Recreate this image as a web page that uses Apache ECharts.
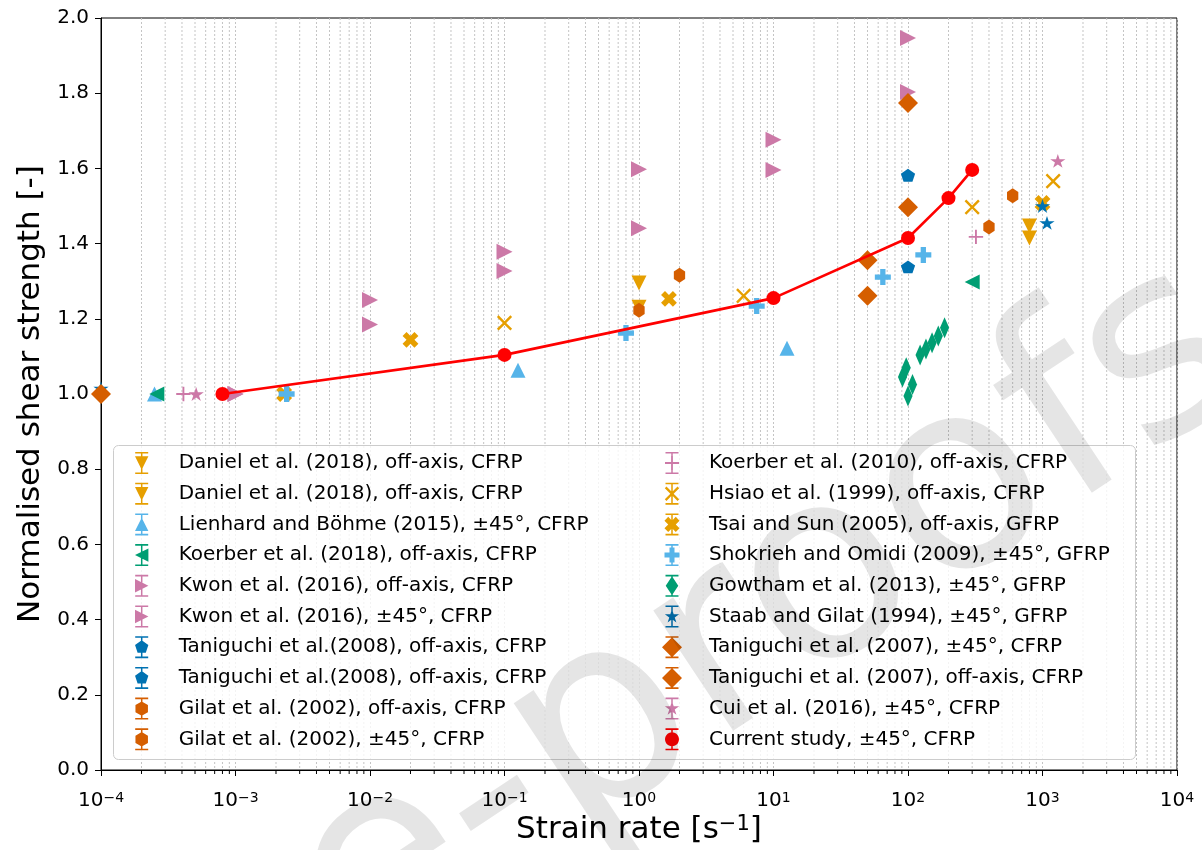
<!DOCTYPE html>
<html>
<head>
<meta charset="utf-8">
<script src="https://cdn.jsdelivr.net/npm/echarts@6/dist/echarts.min.js"></script>
<style>
html,body{margin:0;padding:0;background:#fff;}
#chart{width:1202px;height:850px;}
</style>
</head>
<body>
<div id="chart"></div>
<script>
// ---------------- data ----------------
const danielA = [[1, 1.295], [800, 1.447]];
const danielB = [[1, 1.231], [800, 1.415]];
const lienhard = [[2.5e-4, 1.0], [0.126, 1.063], [12.6, 1.122]];
const koerber2018 = [[2.6e-4, 1.0], [300, 1.298]];
const kwonOff = [[1e-3, 1.0], [0.01, 1.185], [0.1, 1.327], [1, 1.441], [10, 1.596], [100, 1.803]];
const kwon45 = [[1e-3, 1.0], [0.01, 1.25], [0.1, 1.378], [1, 1.598], [10, 1.676], [100, 1.947]];
const taniguchi2008A = [[100, 1.582]];
const taniguchi2008B = [[100, 1.338]];
const gilatOff = [[1, 1.223], [400, 1.444]];
const gilat45 = [[2, 1.316], [600, 1.527]];
const koerber2010 = [[4.1e-4, 1.0], [320, 1.418]];
const hsiao = [[0.1, 1.189], [6, 1.261], [300, 1.497], [1200, 1.566]];
const tsai = [[2.3e-3, 1.0], [0.02, 1.144], [1.67, 1.253], [1000, 1.508]];
const shokrieh = [[2.4e-3, 1.0], [0.8, 1.162], [7.5, 1.234], [65, 1.311], [130, 1.37]];
const gowtham = [[91, 1.045], [97, 1.07], [100, 0.995], [108, 1.025], [123, 1.104], [136, 1.12], [151, 1.136], [168, 1.154], [187, 1.176]];
const staab = [[1e-4, 1.015], [1000, 1.50], [1080, 1.455]];
const taniguchi2007_45 = [[1e-4, 1.0], [50, 1.356], [100, 1.497]];
const taniguchi2007_off = [[50, 1.261], [100, 1.774]];
const cui = [[5.1e-4, 1.0], [1300, 1.62]];
const current = [[8e-4, 1.0], [0.1, 1.104], [10, 1.255], [100, 1.415], [200, 1.521], [300, 1.596]];

const xMinExp = -4, xMaxExp = 4;
const yMin = 0, yMax = 2, yStep = 0.2;

const names = [
  'Daniel et al. (2018), off-axis, CFRP',
  'Daniel et al. (2018), off-axis, CFRP ',
  'Lienhard and Böhme (2015), ±45°, CFRP',
  'Koerber et al. (2018), off-axis, CFRP',
  'Kwon et al. (2016), off-axis, CFRP',
  'Kwon et al. (2016), ±45°, CFRP',
  'Taniguchi et al.(2008), off-axis, CFRP',
  'Taniguchi et al.(2008), off-axis, CFRP ',
  'Gilat et al. (2002), off-axis, CFRP',
  'Gilat et al. (2002), ±45°, CFRP',
  'Koerber et al. (2010), off-axis, CFRP',
  'Hsiao et al. (1999), off-axis, CFRP',
  'Tsai and Sun (2005), off-axis, GFRP',
  'Shokrieh and Omidi (2009), ±45°, GFRP',
  'Gowtham et al. (2013), ±45°, GFRP',
  'Staab and Gilat (1994), ±45°, GFRP',
  'Taniguchi et al. (2007), ±45°, CFRP',
  'Taniguchi et al. (2007), off-axis, CFRP',
  'Cui et al. (2016), ±45°, CFRP',
  'Current study, ±45°, CFRP'
];
const seriesData = [danielA, danielB, lienhard, koerber2018, kwonOff, kwon45, taniguchi2008A, taniguchi2008B,
  gilatOff, gilat45, koerber2010, hsiao, tsai, shokrieh, gowtham, staab, taniguchi2007_45, taniguchi2007_off, cui, current];

// ---------------- styles ----------------
const C = { orange: '#E69F00', sky: '#56B4E9', green: '#009E73', pink: '#CC79A7', blue: '#0072B2', verm: '#D55E00', red: '#FF0000' };
const FONT = 'DejaVu Sans';

function ngon(n, r, startDeg) {
  const p = [];
  for (let i = 0; i < n; i++) {
    const a = (startDeg + i * 360 / n) * Math.PI / 180;
    p.push([r * Math.cos(a), -r * Math.sin(a)]);
  }
  return p;
}
function starPts(r) {
  const p = [];
  for (let i = 0; i < 10; i++) {
    const a = (90 + i * 36) * Math.PI / 180;
    const rr = i % 2 === 0 ? r : r * 0.381966;
    p.push([rr * Math.cos(a), -rr * Math.sin(a)]);
  }
  return p;
}
function plusPts(L, w) {
  return [[-w, -L], [w, -L], [w, -w], [L, -w], [L, w], [w, w], [w, L], [-w, L], [-w, w], [-L, w], [-L, -w], [-w, -w]];
}
function rot(pts, deg) {
  const a = deg * Math.PI / 180, c = Math.cos(a), s = Math.sin(a);
  return pts.map(([x, y]) => [x * c - y * s, x * s + y * c]);
}
function shift(pts, dx, dy) { return pts.map(([x, y]) => [x + dx, y + dy]); }
function poly(pts) {
  let a = 0;
  for (let i = 0; i < pts.length; i++) {
    const p = pts[i], q = pts[(i + 1) % pts.length];
    a += p[0] * q[1] - q[0] * p[1];
  }
  if (a < 0) pts = pts.slice().reverse();
  return 'M' + pts.map(p => p[0].toFixed(2) + ',' + p[1].toFixed(2)).join('L') + 'Z';
}
function pathSym(pts) { return 'path://' + poly(shift(pts, 50, 50)); }

const shapes = {
  down: [[-1, -1], [1, -1], [0, 1]],
  up: [[-1, 1], [1, 1], [0, -1]],
  left: [[-1, 0], [1, -1], [1, 1]],
  right: [[1, 0], [-1, -1], [-1, 1]],
  pent: ngon(5, 1, 90),
  hex: ngon(6, 1, 90),
  star: starPts(1),
  plusThin: plusPts(1, 0.13),
  xThin: rot(plusPts(1, 0.13), 45),
  plusFill: plusPts(1, 1 / 3),
  xFill: rot(plusPts(1, 1 / 3), 45),
  thinD: [[0, -1], [0.66, 0], [0, 1], [-0.66, 0]],
  diam: [[0, -1], [1, 0], [0, 1], [-1, 0]],
  circ: ngon(28, 1, 0)
};
function scalePts(pts, s) { return pts.map(([x, y]) => [x * s, y * s]); }

// [shape, plot half-extent, legend half-extent, colour]
const markers = [
  ['down', 7.5, 6.7, C.orange], ['down', 7.5, 6.7, C.orange],
  ['up', 7.5, 6.7, C.sky], ['left', 7.5, 6.7, C.green],
  ['right', 8, 6.7, C.pink], ['right', 8, 6.7, C.pink],
  ['pent', 7.5, 7, C.blue], ['pent', 7.5, 7, C.blue],
  ['hex', 7.5, 7.2, C.verm], ['hex', 7.5, 7.2, C.verm],
  ['plusThin', 7.2, 7, C.pink], ['xThin', 9.5, 9, C.orange],
  ['xFill', 8.4, 8, C.orange], ['plusFill', 8, 7.5, C.sky],
  ['thinD', 10.5, 9.5, C.green], ['star', 8, 7.5, C.blue],
  ['diam', 10, 10, C.verm], ['diam', 10, 10, C.verm],
  ['star', 8, 7.5, C.pink], ['circ', 7, 7, C.red]
];

function legendIcon(shape, r) {
  const cx = 12, h = 22;
  const bar = [[cx - 6.5, 0], [cx + 6.5, 0], [cx + 6.5, 1.6], [cx + 0.75, 1.6], [cx + 0.75, h - 1.6], [cx + 6.5, h - 1.6],
    [cx + 6.5, h], [cx - 6.5, h], [cx - 6.5, h - 1.6], [cx - 0.75, h - 1.6], [cx - 0.75, 1.6], [cx - 6.5, 1.6]];
  const m = shift(scalePts(shapes[shape], r), cx, h / 2);
  return 'path://' + poly(bar) + poly(m);
}

// minor ticks of the log axis (axis structure)
const minorTicks = [];
for (let e = xMinExp; e < xMaxExp; e++) for (let m = 2; m <= 9; m++) minorTicks.push([m * Math.pow(10, e), 1]);

function xLabel(v) {
  const e = Math.round(Math.log10(v));
  const s = (e < 0 ? '−' + (-e) : '' + e);
  return '{b|10}{s|' + s + '}';
}

const series = [];
series.push({
  type: 'custom', silent: true, clip: false, z: 1, data: minorTicks,
  renderItem: function (params, api) {
    const cs = params.coordSys;
    const x = api.coord([api.value(0), 1])[0];
    return {
      type: 'group', children: [
        { type: 'line', shape: { x1: x, y1: cs.y, x2: x, y2: cs.y + cs.height }, style: { stroke: '#c4c4c4', lineWidth: 1, lineDash: [2, 2] }, silent: true },
        { type: 'line', shape: { x1: x, y1: cs.y + cs.height, x2: x, y2: cs.y + cs.height + 4 }, style: { stroke: '#000', lineWidth: 1 }, silent: true }
      ]
    };
  }
});
names.forEach((nm, i) => {
  const [shape, r, , col] = markers[i];
  const isCurrent = i === names.length - 1;
  const xs = shapes[shape].map(p => p[0]), ys = shapes[shape].map(p => p[1]);
  const sz = [(Math.max(...xs) - Math.min(...xs)) * r, (Math.max(...ys) - Math.min(...ys)) * r];
  series.push({
    type: isCurrent ? 'line' : 'scatter',
    name: nm,
    data: seriesData[i],
    symbol: shape === 'circ' ? 'circle' : pathSym(shapes[shape]),
    symbolSize: shape === 'circ' ? 14 : sz,
    symbolKeepAspect: true,
    itemStyle: { color: col, opacity: 1 },
    lineStyle: isCurrent ? { color: col, width: 2.6 } : undefined,
    showSymbol: true,
    z: isCurrent ? 5 : 2,
    silent: true,
    clip: false
  });
});

const legendCommon = {
  orient: 'vertical', top: 447, itemWidth: 64, itemHeight: 22, itemGap: 8.7,
  selectedMode: false, z: 6,
  textStyle: { fontFamily: FONT, fontSize: 20, color: '#000' }
};
const legendItems = names.map((nm, i) => ({ name: nm, icon: legendIcon(markers[i][0], markers[i][2]) }));

const option = {
  animation: false,
  backgroundColor: '#fff',
  grid: { left: 101, right: 25, top: 18, bottom: 80, outerBoundsMode: 'none', containLabel: false,
    show: true, borderColor: '#000', borderWidth: 1, backgroundColor: 'transparent' },
  xAxis: {
    type: 'log', logBase: 10, min: Math.pow(10, xMinExp), max: Math.pow(10, xMaxExp), splitNumber: 8,
    name: '{b|Strain rate [s}{s|−1}{b|]}', nameLocation: 'middle', nameGap: 44, nameMoveOverlap: false,
    nameTextStyle: { rich: {
      b: { fontFamily: FONT, fontSize: 31, color: '#000', lineHeight: 31, verticalAlign: 'bottom' },
      s: { fontFamily: FONT, fontSize: 21, color: '#000', lineHeight: 21, verticalAlign: 'top', padding: [0, 0, 16, 0] } } },
    axisLine: { show: true, lineStyle: { color: '#000', width: 1 } },
    axisTick: { show: true, length: 6, lineStyle: { color: '#000', width: 1 } },
    axisLabel: { formatter: xLabel, margin: 21, showMinLabel: true, showMaxLabel: true, rich: {
      b: { fontFamily: FONT, fontSize: 20, color: '#000', lineHeight: 20, verticalAlign: 'bottom' },
      s: { fontFamily: FONT, fontSize: 14, color: '#000', lineHeight: 14, verticalAlign: 'top', padding: [0, 0, 13, 0] } } },
    splitLine: { show: true, lineStyle: { color: '#c4c4c4', width: 1, type: [2, 2] } },
    minorTick: { show: false }
  },
  yAxis: {
    type: 'value', min: yMin, max: yMax, interval: yStep,
    name: 'Normalised shear strength [-]', nameLocation: 'middle', nameGap: 55,
    nameTextStyle: { fontFamily: FONT, fontSize: 31, color: '#000' },
    axisLine: { show: true, lineStyle: { color: '#000', width: 1 } },
    axisTick: { show: true, length: 6, lineStyle: { color: '#000', width: 1 } },
    axisLabel: { formatter: v => v.toFixed(1), margin: 12, fontFamily: FONT, fontSize: 20, color: '#000' },
    splitLine: { show: false }
  },
  legend: [
    Object.assign({}, legendCommon, { left: 130, data: legendItems.slice(0, 10) }),
    Object.assign({}, legendCommon, { left: 657, data: legendItems.slice(10) })
  ],
  graphic: [
    { type: 'rect', z: 5, shape: { x: 113.5, y: 445.5, width: 1022, height: 314, r: 5 },
      style: { fill: 'rgba(255,255,255,0.8)', stroke: '#cccccc', lineWidth: 1 }, silent: true },
    { type: 'text', z: 100, x: 1295, y: 434, rotation: 0.586, silent: true,
      style: { text: 'Journal Pre-proofs', fontFamily: FONT, fontSize: 264, fill: 'rgba(0,0,0,0.1)', align: 'right', verticalAlign: 'bottom' } }
  ],
  series: series
};

const chart = echarts.init(document.getElementById('chart'), null, { renderer: 'canvas' });
chart.setOption(option);
</script>
</body>
</html>
